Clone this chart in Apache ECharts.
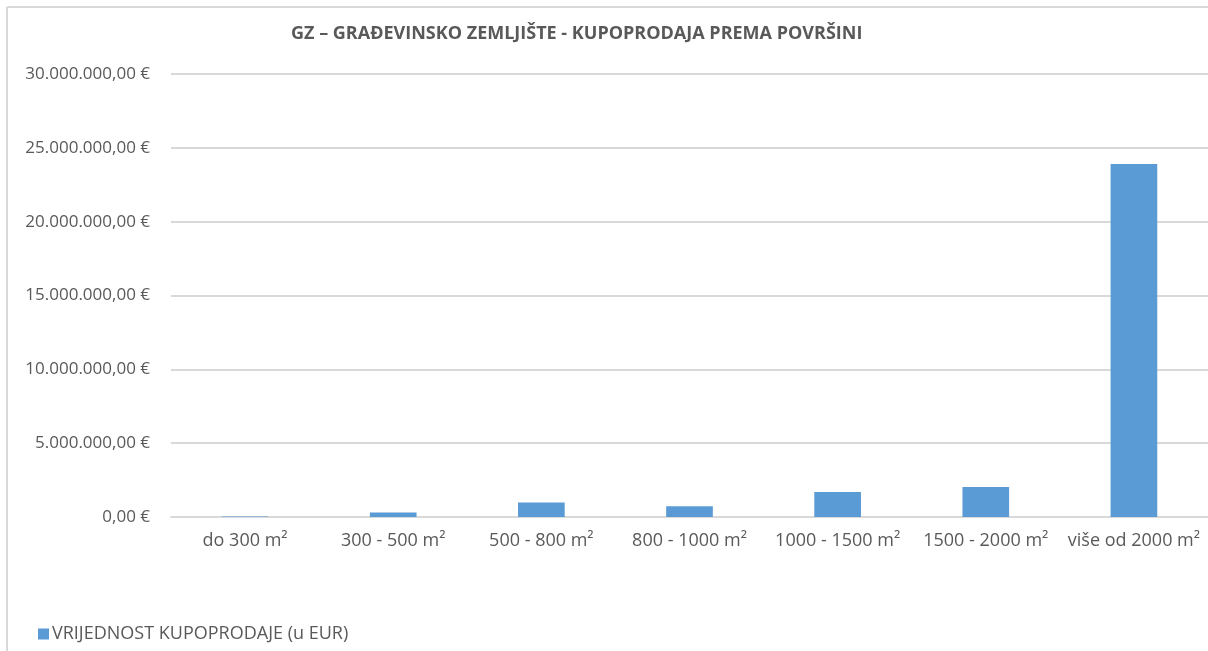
<!DOCTYPE html>
<html>
<head>
<meta charset="utf-8">
<title>GZ – Građevinsko zemljište</title>
<script src="https://cdn.jsdelivr.net/npm/echarts@6/dist/echarts.min.js"></script>
<style>
  html, body { margin: 0; padding: 0; background: #fff; }
  #chart { width: 1208px; height: 651px; }
</style>
</head>
<body>
<div id="chart"></div>
<script>
// kategorije (površina)
var categories = ['do 300 m²', '300 - 500 m²', '500 - 800 m²', '800 - 1000 m²', '1000 - 1500 m²', '1500 - 2000 m²', 'više od 2000 m²'];
// vrijednost kupoprodaje u EUR
var values = [40000, 300000, 980000, 720000, 1690000, 2030000, 23900000];
var seriesName = 'VRIJEDNOST KUPOPRODAJE (u EUR)';
var yMin = 0, yMax = 30000000, yStep = 5000000;

// 25000000 -> "25.000.000,00 €"
function euro(v) {
    var s = Math.round(v).toString().replace(/\B(?=(\d{3})+(?!\d))/g, '.');
    return s + ',00 €';
}

var chart = echarts.init(document.getElementById('chart'));

var option = {
    animation: false,
    textStyle: { fontFamily: 'Open Sans' },
    title: {
        text: 'GZ – GRAĐEVINSKO ZEMLJIŠTE - KUPOPRODAJA PREMA POVRŠINI',
        left: 286,
        top: 20,
        textStyle: { fontSize: 18, fontWeight: 'bold', color: '#595959', fontFamily: 'Open Sans' }
    },
    legend: {
        left: 33,
        top: 620,
        icon: 'rect',
        itemWidth: 11,
        itemHeight: 11,
        itemGap: 4,
        textStyle: { fontSize: 18, color: '#595959', padding: [0, 0, 0, -2] },
        data: [seriesName]
    },
    grid: { left: 171, right: -2, top: 74, bottom: 134, containLabel: false },
    xAxis: {
        type: 'category',
        data: categories,
        axisLine: { lineStyle: { color: '#d9d9d9', width: 2 } },
        axisTick: { show: false },
        axisLabel: { color: '#595959', fontSize: 18, margin: 15, interval: 0, hideOverlap: false }
    },
    yAxis: {
        type: 'value',
        min: yMin,
        max: yMax,
        interval: yStep,
        axisLine: { show: false },
        axisTick: { show: false },
        splitLine: { lineStyle: { color: '#d9d9d9', width: 2 } },
        axisLabel: { color: '#595959', fontSize: 17, margin: 21, formatter: euro }
    },
    graphic: [
        { type: 'line', shape: { x1: 7, y1: 7, x2: 1208, y2: 7 }, style: { stroke: '#d9d9d9', lineWidth: 2 } },
        { type: 'line', shape: { x1: 7, y1: 7, x2: 7, y2: 651 }, style: { stroke: '#d9d9d9', lineWidth: 2 } }
    ],
    series: [{
        name: seriesName,
        type: 'bar',
        barWidth: '31.5%',
        itemStyle: { color: '#5b9bd5' },
        data: values
    }]
};

chart.setOption(option);
</script>
</body>
</html>
